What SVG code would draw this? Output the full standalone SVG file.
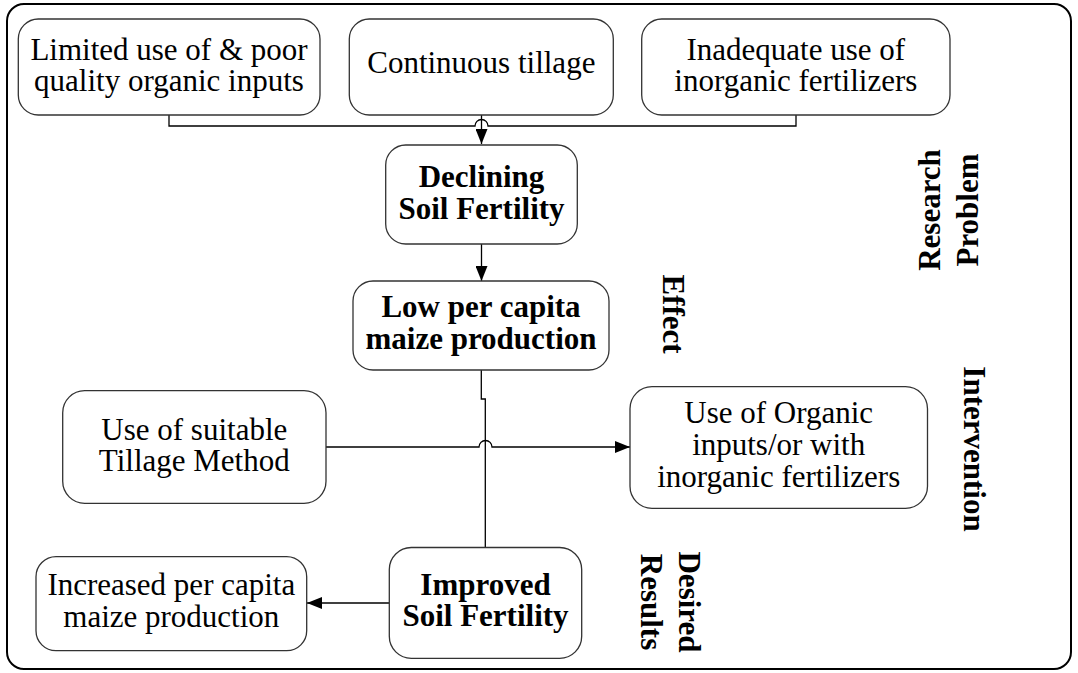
<svg xmlns="http://www.w3.org/2000/svg" width="1078" height="673" viewBox="0 0 1078 673">
<defs>
<style>
.box{fill:#fff;stroke:#333;stroke-width:1.3}
.t{font-family:"Liberation Serif","Times New Roman",serif;font-size:31px;fill:#000;text-anchor:middle}
.b{font-weight:bold}
.c{fill:none;stroke:#000;stroke-width:1.3}
</style>
<marker id="ah" viewBox="0 0 15 12" refX="15" refY="6" markerWidth="15" markerHeight="12" markerUnits="userSpaceOnUse" orient="auto">
<path d="M0,0 L15,6 L0,12 z" fill="#000"/>
</marker>
</defs>
<rect x="7" y="4" width="1064" height="665" rx="17" ry="17" fill="#fff" stroke="#000" stroke-width="2"/>

<g id="connectors">
<path class="c" d="M169,115 V126 H475 A6.5 6.5 0 0 1 488 126 H796 V115"/>
<path class="c" d="M481.5,115 V144" marker-end="url(#ah)"/>
<path class="c" d="M481.5,244 V281" marker-end="url(#ah)"/>
<path class="c" d="M481.3,370 V399 H485.3 V547.5"/>
<path class="c" d="M326,447 H479 A6.5 6.5 0 0 1 492 447 H630" marker-end="url(#ah)"/>
<path class="c" d="M389.3,603 H307" marker-end="url(#ah)"/>
</g>

<g id="limited">
<rect class="box" x="18.3" y="19" width="301.7" height="96" rx="20"/>
<text class="t" x="169" y="60">Limited use of &amp; poor</text>
<text class="t" x="169" y="91">quality organic inputs</text>
</g>
<g id="continuous">
<rect class="box" x="349.3" y="19" width="264" height="96" rx="20"/>
<text class="t" x="481.3" y="73">Continuous tillage</text>
</g>
<g id="inadequate">
<rect class="box" x="641.7" y="19" width="308.3" height="96" rx="20"/>
<text class="t" x="795.8" y="60">Inadequate use of</text>
<text class="t" x="795.8" y="91">inorganic fertilizers</text>
</g>
<g id="declining">
<rect class="box" x="385.7" y="145" width="191.6" height="99" rx="20"/>
<text class="t b" x="481.5" y="187">Declining</text>
<text class="t b" x="481.5" y="219">Soil Fertility</text>
</g>
<g id="low">
<rect class="box" x="353" y="281" width="256" height="89" rx="20"/>
<text class="t b" x="481" y="317">Low per capita</text>
<text class="t b" x="481" y="349">maize production</text>
</g>
<g id="tillage">
<rect class="box" x="62.7" y="390.7" width="263.3" height="112.6" rx="22"/>
<text class="t" x="194.3" y="440">Use of suitable</text>
<text class="t" x="194.3" y="471">Tillage Method</text>
</g>
<g id="organic">
<rect class="box" x="630" y="386.7" width="297.5" height="121.6" rx="22"/>
<text class="t" x="778.7" y="423">Use of Organic</text>
<text class="t" x="778.7" y="455">inputs/or with</text>
<text class="t" x="778.7" y="487">inorganic fertilizers</text>
</g>
<g id="improved">
<rect class="box" x="389.3" y="547.5" width="192.4" height="110.8" rx="22"/>
<text class="t b" x="485.5" y="595">Improved</text>
<text class="t b" x="485.5" y="626">Soil Fertility</text>
</g>
<g id="increased">
<rect class="box" x="36" y="556.7" width="270.7" height="94" rx="20"/>
<text class="t" x="171.3" y="595">Increased per capita</text>
<text class="t" x="171.3" y="627">maize production</text>
</g>

<g id="labels">
<text class="t b" transform="translate(940,210) rotate(-90)">Research</text>
<text class="t b" transform="translate(978,210) rotate(-90)">Problem</text>
<text class="t b" transform="translate(663,314) rotate(90)">Effect</text>
<text class="t b" transform="translate(964,449) rotate(90)">Intervention</text>
<text class="t b" transform="translate(679,602) rotate(90)">Desired</text>
<text class="t b" transform="translate(641,602) rotate(90)">Results</text>
</g>
</svg>
